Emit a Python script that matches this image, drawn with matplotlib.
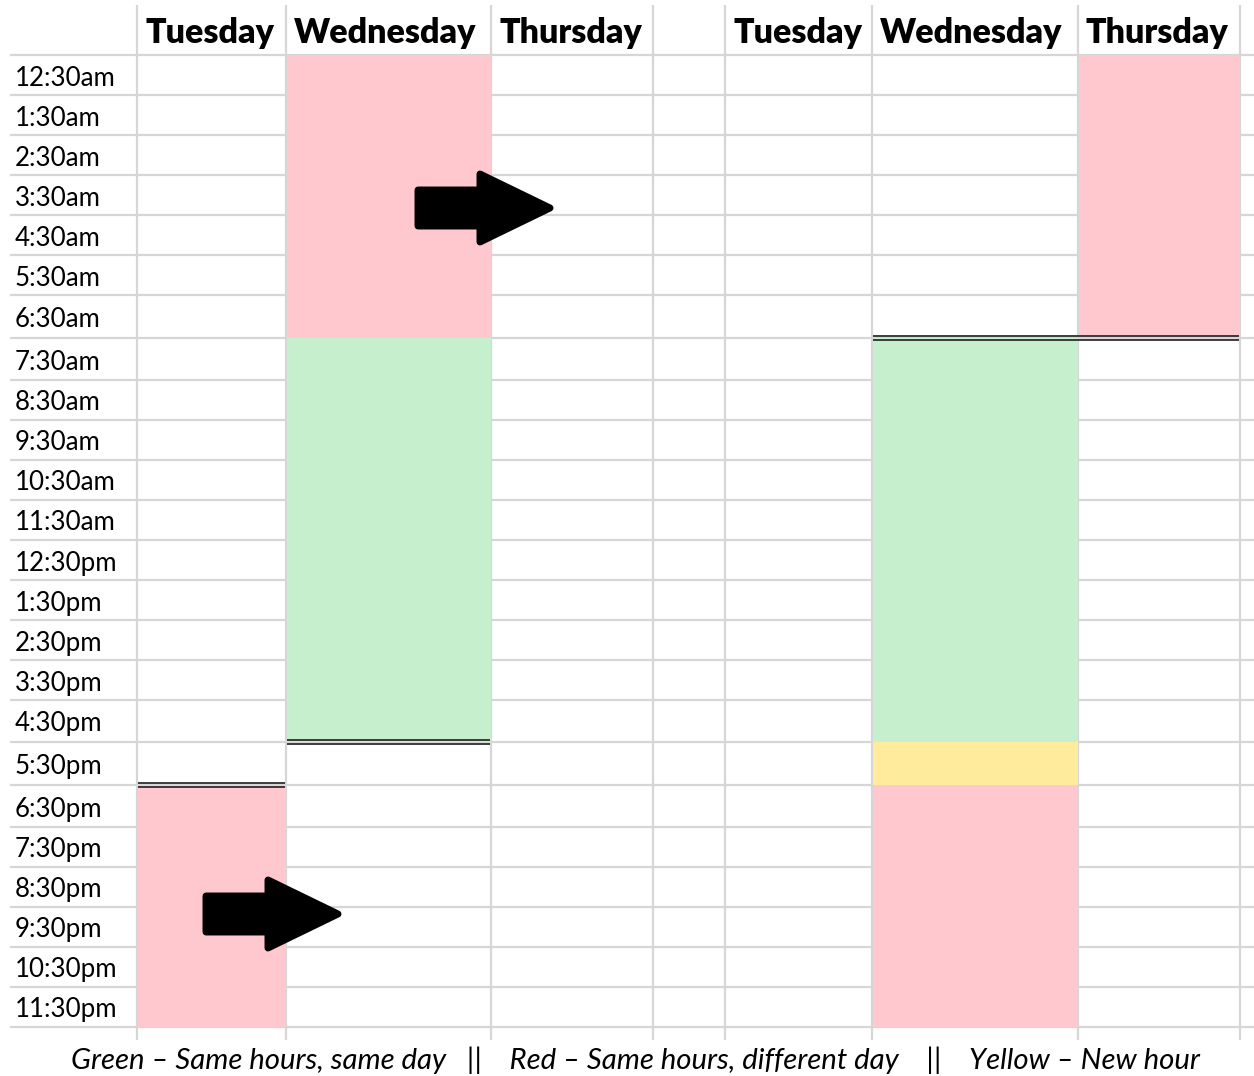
import matplotlib
matplotlib.use("Agg")
import matplotlib.pyplot as plt
from matplotlib.patches import Rectangle, FancyArrow

# ---------------- data ----------------
times = ['12:30am', '1:30am', '2:30am', '3:30am', '4:30am', '5:30am', '6:30am',
         '7:30am', '8:30am', '9:30am', '10:30am', '11:30am', '12:30pm', '1:30pm',
         '2:30pm', '3:30pm', '4:30pm', '5:30pm', '6:30pm', '7:30pm', '8:30pm',
         '9:30pm', '10:30pm', '11:30pm']
days = ['Tuesday', 'Wednesday', 'Thursday']

# left schedule (before)
left_day = ['Wednesday', 'Wednesday', 'Tuesday']
left_start = ['12:30am', '7:30am', '6:30pm']
left_end = ['6:30am', '4:30pm', '11:30pm']
left_kind = ['red', 'green', 'red']

# right schedule (after)
right_day = ['Thursday', 'Wednesday', 'Wednesday', 'Wednesday']
right_start = ['12:30am', '7:30am', '5:30pm', '6:30pm']
right_end = ['6:30am', '4:30pm', '5:30pm', '11:30pm']
right_kind = ['red', 'green', 'yellow', 'red']

# double borders: (day, row boundary below this time)
left_border_day = ['Wednesday', 'Tuesday']
left_border_after = ['4:30pm', '5:30pm']
right_border_day = [['Wednesday', 'Thursday']]
right_border_after = ['6:30am']

# arrows: (day, time row) of the arrow start
left_arrow_day = ['Wednesday', 'Tuesday']
left_arrow_time = ['3:30am', '9:30pm']

caption = ("Green \u2013 Same hours, same day   ||    Red \u2013 Same hours, different day"
           "    ||    Yellow \u2013 New hour")

# ---------------- layout / style ----------------
colors = {'red': '#FFC7CE', 'green': '#C6EFCE', 'yellow': '#FFEB9C'}
grid_col = '#d6d6d6'
W, H = 1254, 1076
row_h = [40] * 6 + [43, 42] + [40] * 8 + [42, 43, 42] + [40] * 5
top = 55
row_edges = [top]
for h in row_h:
    row_edges.append(row_edges[-1] + h)
left_cols = [137, 286, 491, 653]     # edges of Tue, Wed, Thu in left panel
right_cols = [725, 872, 1078, 1240]  # edges in right panel
all_vlines = [137, 286, 491, 653, 725, 872, 1078, 1240]

fig = plt.figure(figsize=(W / 100, H / 100), dpi=100)
ax = fig.add_axes([0, 0, 1, 1])
ax.set_xlim(0, W)
ax.set_ylim(H, 0)
ax.axis('off')

font = 'Lato'

# grid
for y in row_edges:
    ax.plot([10, W], [y, y], color=grid_col, lw=1.6, zorder=1, solid_capstyle='butt')
for x in all_vlines:
    ax.plot([x, x], [5, 1040], color=grid_col, lw=1.6, zorder=1, solid_capstyle='butt')


def col_span(cols, day):
    i = days.index(day)
    return cols[i], cols[i + 1]


def draw_blocks(cols, dlist, slist, elist, klist):
    for d, s, e, k in zip(dlist, slist, elist, klist):
        x0, x1 = col_span(cols, d)
        r0 = times.index(s)
        r1 = times.index(e) + 1
        y0, y1 = row_edges[r0], row_edges[r1]
        ax.add_patch(Rectangle((x0 + 0.5, y0), x1 - x0 - 0.5, y1 - y0,
                               facecolor=colors[k], edgecolor='none', zorder=2))


draw_blocks(left_cols, left_day, left_start, left_end, left_kind)
draw_blocks(right_cols, right_day, right_start, right_end, right_kind)


def double_line(x0, x1, y):
    for dy in (-2.2, 2.2):
        ax.plot([x0 + 1, x1 - 1], [y + dy, y + dy], color='#2e2e2e', lw=1.3,
                zorder=4, solid_capstyle='butt')


for d, t in zip(left_border_day, left_border_after):
    x0, x1 = col_span(left_cols, d)
    double_line(x0, x1, row_edges[times.index(t) + 1])
for ds, t in zip(right_border_day, right_border_after):
    x0 = col_span(right_cols, ds[0])[0]
    x1 = col_span(right_cols, ds[-1])[1]
    double_line(x0, x1, row_edges[times.index(t) + 1])

# arrows
arrow_offsets = {'Wednesday': 132, 'Tuesday': 69}
for d, t in zip(left_arrow_day, left_arrow_time):
    x0, x1 = col_span(left_cols, d)
    r = times.index(t)
    yc = (row_edges[r] + row_edges[r + 1]) / 2 + (13 if d == 'Wednesday' else -13)
    xs = x0 + arrow_offsets[d]
    ax.add_patch(FancyArrow(xs, yc, 132, 0, width=36, head_width=68,
                            head_length=70, length_includes_head=True,
                            facecolor='black', edgecolor='black', lw=5,
                            joinstyle='round', zorder=5))

# headers
for cols in (left_cols, right_cols):
    for i, d in enumerate(days):
        ax.text(cols[i] + 8, 33, d, fontsize=24.5, fontweight='heavy', family=font,
                ha='left', va='center', color='black', zorder=6)

# time labels
for i, t in enumerate(times):
    yc = (row_edges[i] + row_edges[i + 1]) / 2 + 3
    ax.text(15, yc, t, fontsize=18.6, family=font, ha='left', va='center',
            color='black', zorder=6)

ax.text(635, 1060, caption, fontsize=21.2, family=font, style='italic',
        ha='center', va='center', color='black')

fig.savefig('out.png', dpi=100, facecolor='white')
